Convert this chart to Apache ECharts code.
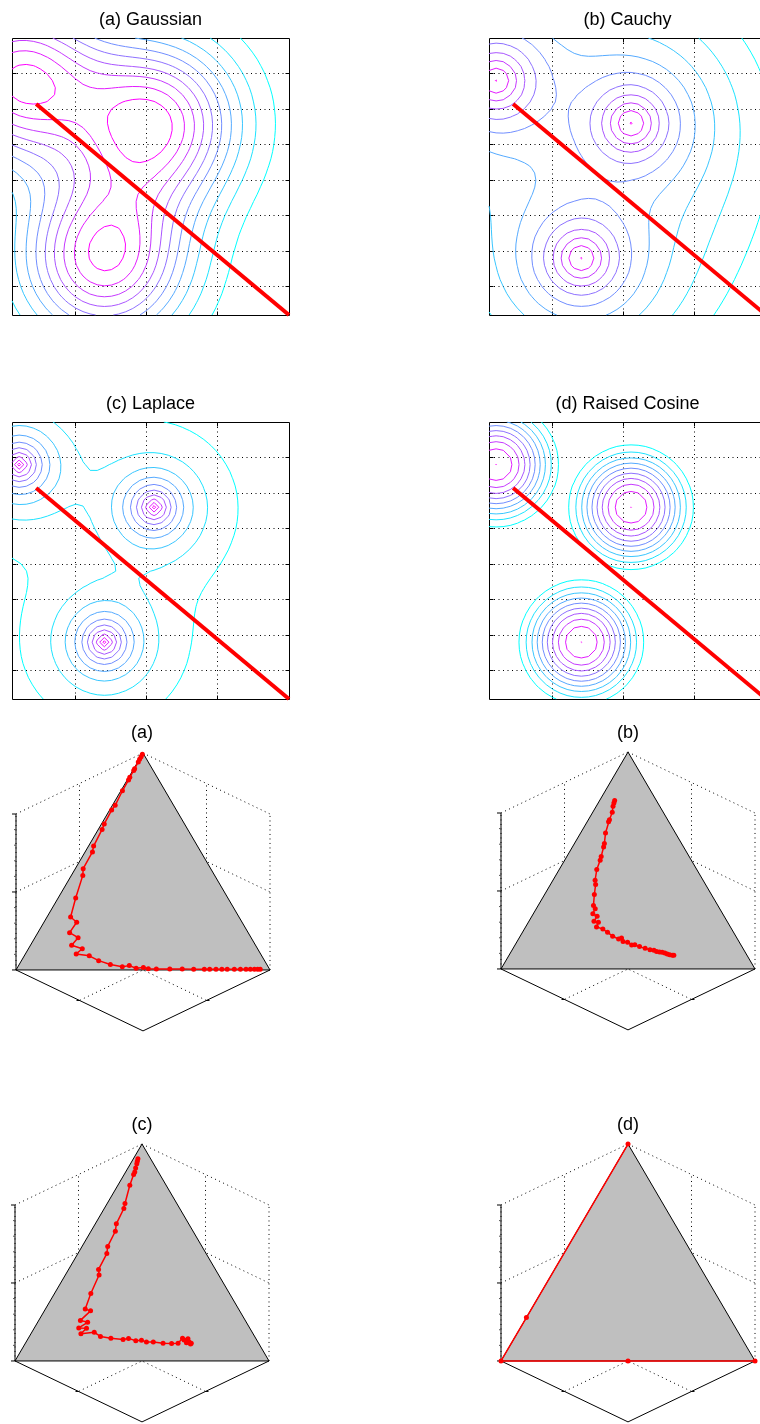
<!DOCTYPE html>
<html>
<head>
<meta charset="utf-8">
<title>Kernel densities and simplex paths</title>
<script src="https://cdn.jsdelivr.net/npm/echarts@6.0.0/dist/echarts.min.js"></script>
<style>
  html, body { margin: 0; padding: 0; background: #fff; }
  #chart { width: 760px; height: 1424px; }
</style>
</head>
<body>
<div id="chart"></div>
<script>
// ---------- density panels: three kernels evaluated on a 0.2-step grid ----------
const gridRange = [-3.8, 4.0];
const gridStep = 0.2;
const xTickValues = [-2, 0, 2];
const yTickValues = [-3, -2, -1, 0, 1, 2, 3];
const kernelCentersX = [-3.6, 0.2, -1.2];
const kernelCentersY = [2.8, 1.6, -2.2];
const kernelWeights = [1, 1, 1];
const densityTitles = ['(a) Gaussian', '(b) Cauchy', '(c) Laplace', '(d) Raised Cosine'];
const densityKernels = ['gaussian', 'cauchy', 'laplace', 'cosine'];
const densityWidths = [1.6, 0.48, 0.79, 2.2];
// contour levels: fraction (k - offset) / divisions of [zmin, zmax], k = 1..count
const levelScales = ['linear', 'log', 'linear', 'linear'];
const levelDivisions = [11, 10, 10, 10];
const levelOffsets = [0, 0, 0.5, 0];
const levelCounts = [10, 9, 10, 9];
// extra level just under the maximum (fraction of the range), or null
const peakLevels = [null, 0.995, null, 0.999];
const boundaryX = [-3.12, 4.0];
const boundaryY = [2.14, -3.8];

// ---------- simplex panels: probability paths [p1, p2, p3] ----------
const simplexTitles = ['(a)', '(b)', '(c)', '(d)'];
const simplexTicks = [0, 0.5, 1];
const simplexMinorTicks = [0.1, 0.2, 0.3, 0.4, 0.6, 0.7, 0.8, 0.9];

const pathA = [
  [0.005, 0.000, 0.995], [0.016, 0.001, 0.983], [0.028, 0.001, 0.971], [0.039, 0.002, 0.959],
  [0.069, 0.003, 0.928], [0.077, 0.004, 0.919], [0.108, 0.004, 0.888], [0.119, 0.005, 0.876],
  [0.168, 0.006, 0.826], [0.230, 0.011, 0.759], [0.255, 0.008, 0.737], [0.316, 0.011, 0.673],
  [0.337, 0.015, 0.648], [0.409, 0.020, 0.571], [0.427, 0.029, 0.544], [0.502, 0.031, 0.467],
  [0.519, 0.045, 0.436], [0.599, 0.069, 0.332], [0.663, 0.093, 0.244], [0.651, 0.129, 0.220],
  [0.703, 0.125, 0.172], [0.681, 0.170, 0.149], [0.724, 0.162, 0.114], [0.690, 0.212, 0.098],
  [0.726, 0.200, 0.074], [0.679, 0.256, 0.065], [0.653, 0.304, 0.043], [0.616, 0.359, 0.025],
  [0.574, 0.411, 0.015], [0.544, 0.436, 0.020], [0.523, 0.469, 0.008], [0.493, 0.496, 0.011],
  [0.476, 0.518, 0.006], [0.445, 0.550, 0.005], [0.392, 0.603, 0.005], [0.343, 0.652, 0.005],
  [0.299, 0.698, 0.003], [0.257, 0.740, 0.003], [0.236, 0.761, 0.003], [0.211, 0.786, 0.003],
  [0.188, 0.809, 0.003], [0.167, 0.830, 0.003], [0.139, 0.858, 0.003], [0.115, 0.882, 0.003],
  [0.093, 0.904, 0.003], [0.076, 0.921, 0.003], [0.060, 0.937, 0.003], [0.047, 0.950, 0.003],
  [0.037, 0.960, 0.003]
];
const pathB = [
  [0.164, 0.059, 0.777], [0.173, 0.062, 0.765], [0.184, 0.066, 0.750], [0.201, 0.077, 0.722],
  [0.229, 0.083, 0.688], [0.237, 0.084, 0.679], [0.275, 0.098, 0.627], [0.304, 0.118, 0.578],
  [0.315, 0.123, 0.562], [0.346, 0.135, 0.519], [0.359, 0.140, 0.501], [0.394, 0.148, 0.458],
  [0.425, 0.166, 0.409], [0.433, 0.178, 0.389], [0.461, 0.196, 0.343], [0.490, 0.218, 0.292],
  [0.490, 0.232, 0.278], [0.511, 0.234, 0.255], [0.500, 0.257, 0.243], [0.524, 0.256, 0.220],
  [0.509, 0.276, 0.215], [0.527, 0.279, 0.194], [0.507, 0.309, 0.184], [0.496, 0.335, 0.169],
  [0.485, 0.364, 0.151], [0.468, 0.394, 0.138], [0.454, 0.403, 0.143], [0.456, 0.417, 0.127],
  [0.440, 0.437, 0.123], [0.430, 0.459, 0.111], [0.417, 0.471, 0.112], [0.403, 0.494, 0.103],
  [0.385, 0.520, 0.095], [0.369, 0.542, 0.089], [0.355, 0.559, 0.086], [0.347, 0.572, 0.081],
  [0.337, 0.585, 0.078], [0.327, 0.596, 0.077], [0.318, 0.608, 0.074], [0.311, 0.620, 0.069],
  [0.303, 0.631, 0.066], [0.294, 0.643, 0.063], [0.288, 0.649, 0.063]
];
const pathC = [
  [0.050, 0.018, 0.932], [0.058, 0.021, 0.921], [0.066, 0.025, 0.909], [0.080, 0.030, 0.890],
  [0.093, 0.036, 0.871], [0.103, 0.037, 0.860], [0.143, 0.047, 0.810], [0.204, 0.070, 0.726],
  [0.220, 0.077, 0.703], [0.285, 0.083, 0.632], [0.306, 0.096, 0.598], [0.371, 0.101, 0.528],
  [0.391, 0.114, 0.495], [0.460, 0.118, 0.422], [0.471, 0.133, 0.396], [0.546, 0.143, 0.311],
  [0.604, 0.157, 0.239], [0.587, 0.182, 0.231], [0.649, 0.164, 0.187], [0.625, 0.197, 0.178],
  [0.673, 0.175, 0.152], [0.643, 0.206, 0.151], [0.678, 0.197, 0.125], [0.622, 0.246, 0.132],
  [0.607, 0.280, 0.113], [0.570, 0.325, 0.105], [0.525, 0.376, 0.099], [0.501, 0.395, 0.104],
  [0.478, 0.429, 0.093], [0.454, 0.450, 0.096], [0.439, 0.474, 0.087], [0.412, 0.501, 0.087],
  [0.376, 0.542, 0.082], [0.343, 0.576, 0.081], [0.317, 0.601, 0.082], [0.288, 0.607, 0.105],
  [0.277, 0.627, 0.096], [0.271, 0.642, 0.087], [0.270, 0.652, 0.078], [0.283, 0.633, 0.084],
  [0.286, 0.617, 0.097], [0.268, 0.630, 0.102], [0.265, 0.653, 0.082]
];
const pathD = [
  [0, 0, 1], [0.8, 0, 0.2], [1, 0, 0], [0.5, 0.5, 0], [0, 1, 0]
];
const simplexPaths = [pathA, pathB, pathC, pathD];

// ---------- layout ----------
const densityBoxes = [[12, 38], [489, 38], [12, 422], [489, 422]];
const densitySize = 277;
const densityTitlePos = [[150.5, 20], [627.5, 20], [150.5, 404], [627.5, 404]];
const simplexOrigins = [[143, 909], [628, 908], [142, 1300], [628, 1300]];
const simplexTitlePos = [[142, 733], [628, 733], [142, 1125], [628, 1125]];
const simplexScale = 127;               // px per projected unit
const simplexView = { cx: 1.0, sy: 0.48, kz: 1.228 };
const projXRange = [-1.1, 1.1];
const projYRange = [-1.0, 1.3];
const TITLE_FONT = '18px "Liberation Sans", Arial, Helvetica, sans-serif';

// ---------- density field + contour tracing ----------
function kernelValue(kind, r, w) {
  switch (kind) {
    case 'gaussian': return Math.exp(-r * r / (2 * w * w));
    case 'cauchy': return 1 / (1 + r * r / (w * w));
    case 'laplace': return Math.exp(-r / w);
    default: return r < w ? 0.5 * (1 + Math.cos(Math.PI * r / w)) : 0;
  }
}
const nodes = [];
const nNodes = Math.round((gridRange[1] - gridRange[0]) / gridStep) + 1;
for (let i = 0; i < nNodes; i++) nodes.push(Math.round((gridRange[0] + i * gridStep) * 1e6) / 1e6);

function densityField(kind, w) {
  const z = [];
  for (let j = 0; j < nodes.length; j++) {
    const row = [];
    for (let i = 0; i < nodes.length; i++) {
      let s = 0;
      for (let k = 0; k < kernelCentersX.length; k++) {
        const dx = nodes[i] - kernelCentersX[k], dy = nodes[j] - kernelCentersY[k];
        s += kernelWeights[k] * kernelValue(kind, Math.sqrt(dx * dx + dy * dy), w);
      }
      row.push(s);
    }
    z.push(row);
  }
  return z;
}

// marching squares, returns chained polylines for one level
function contourLevel(z, level) {
  const n = nodes.length;
  const segs = [];
  const cross = (i0, j0, i1, j1) => {
    const a = z[j0][i0], b = z[j1][i1];
    const t = (level - a) / (b - a);
    return [nodes[i0] + (nodes[i1] - nodes[i0]) * t, nodes[j0] + (nodes[j1] - nodes[j0]) * t];
  };
  for (let j = 0; j < n - 1; j++) {
    for (let i = 0; i < n - 1; i++) {
      const v0 = z[j][i], v1 = z[j][i + 1], v2 = z[j + 1][i + 1], v3 = z[j + 1][i];
      const b0 = v0 >= level, b1 = v1 >= level, b2 = v2 >= level, b3 = v3 >= level;
      const edges = {};
      if (b0 !== b1) edges.e0 = { k: 'h' + i + '_' + j, p: cross(i, j, i + 1, j) };
      if (b1 !== b2) edges.e1 = { k: 'v' + (i + 1) + '_' + j, p: cross(i + 1, j, i + 1, j + 1) };
      if (b2 !== b3) edges.e2 = { k: 'h' + i + '_' + (j + 1), p: cross(i, j + 1, i + 1, j + 1) };
      if (b3 !== b0) edges.e3 = { k: 'v' + i + '_' + j, p: cross(i, j, i, j + 1) };
      const list = Object.keys(edges);
      const add = (a, b) => segs.push({ k: [edges[a].k, edges[b].k], p: [edges[a].p, edges[b].p] });
      if (list.length === 2) add(list[0], list[1]);
      else if (list.length === 4) {
        const centerIn = (v0 + v1 + v2 + v3) / 4 >= level;
        if (b0) {
          if (centerIn) { add('e0', 'e1'); add('e2', 'e3'); } else { add('e3', 'e0'); add('e1', 'e2'); }
        } else {
          if (centerIn) { add('e3', 'e0'); add('e1', 'e2'); } else { add('e0', 'e1'); add('e2', 'e3'); }
        }
      }
    }
  }
  const byKey = new Map();
  segs.forEach((s, idx) => s.k.forEach(k => { if (!byKey.has(k)) byKey.set(k, []); byKey.get(k).push(idx); }));
  const used = new Array(segs.length).fill(false);
  const walk = (start, from) => {
    const pts = [segs[start].p[from]];
    let idx = start;
    while (true) {
      used[idx] = true;
      const to = 1 - from;
      pts.push(segs[idx].p[to]);
      const key = segs[idx].k[to];
      const next = byKey.get(key).filter(q => !used[q]);
      if (!next.length) break;
      idx = next[0];
      from = segs[idx].k[0] === key ? 0 : 1;
    }
    return pts;
  };
  const lines = [];
  byKey.forEach((list, key) => {
    if (list.length === 1 && !used[list[0]]) lines.push(walk(list[0], segs[list[0]].k[0] === key ? 0 : 1));
  });
  segs.forEach((s, idx) => { if (!used[idx]) lines.push(walk(idx, 0)); });
  return lines;
}

const coolColor = t => 'rgb(' + Math.round(255 * t) + ',' + Math.round(255 * (1 - t)) + ',255)';
const crisp = v => Math.round(v - 0.5) + 0.5;

// ---------- simplex projection ----------
function project(p) {
  return [(p[1] - p[0]) * simplexView.cx, p[2] * simplexView.kz - (p[0] + p[1]) * simplexView.sy];
}

// ---------- build option ----------
const grids = [], xAxes = [], yAxes = [], series = [], graphics = [];

densityKernels.forEach((kind, p) => {
  const [left, top] = densityBoxes[p];
  grids.push({ left, top, width: densitySize, height: densitySize, show: false, containLabel: false, outerBoundsMode: 'none' });
  xAxes.push({ type: 'value', gridIndex: p, min: gridRange[0], max: gridRange[1], show: false });
  yAxes.push({ type: 'value', gridIndex: p, min: gridRange[0], max: gridRange[1], show: false });

  // dotted grid, frame and inward ticks
  series.push({
    type: 'custom', xAxisIndex: p, yAxisIndex: p, z: 1, silent: true, animation: false,
    data: [[0, 0]],
    renderItem: (params, api) => {
      const ch = [];
      const dot = { stroke: '#000', lineWidth: 1, lineDash: [1, 3.5], fill: null };
      const solid = { stroke: '#000', lineWidth: 1, fill: null };
      const lo = gridRange[0], hi = gridRange[1];
      const tl = api.coord([lo, hi]), br = api.coord([hi, lo]);
      const L = crisp(tl[0]), T = crisp(tl[1]), R = crisp(br[0]), B = crisp(br[1]);
      const TICK = 4;
      xTickValues.forEach(v => {
        const x = crisp(api.coord([v, 0])[0]);
        ch.push({ type: 'line', shape: { x1: x, y1: T, x2: x, y2: B }, style: dot });
        ch.push({ type: 'line', shape: { x1: x, y1: B, x2: x, y2: B - TICK }, style: solid });
        ch.push({ type: 'line', shape: { x1: x, y1: T, x2: x, y2: T + TICK }, style: solid });
      });
      yTickValues.forEach(v => {
        const y = crisp(api.coord([0, v])[1]);
        ch.push({ type: 'line', shape: { x1: L, y1: y, x2: R, y2: y }, style: dot });
        ch.push({ type: 'line', shape: { x1: L, y1: y, x2: L + TICK, y2: y }, style: solid });
        ch.push({ type: 'line', shape: { x1: R, y1: y, x2: R - TICK, y2: y }, style: solid });
      });
      ch.push({ type: 'rect', shape: { x: L, y: T, width: R - L, height: B - T }, style: solid, z2: 10 });
      return { type: 'group', children: ch };
    }
  });

  // contour lines
  const z = densityField(kind, densityWidths[p]);
  let zmin = Infinity, zmax = -Infinity;
  z.forEach(r => r.forEach(v => { zmin = Math.min(zmin, v); zmax = Math.max(zmax, v); }));
  const toLevel = f => levelScales[p] === 'log'
    ? Math.exp(Math.log(zmin) + (Math.log(zmax) - Math.log(zmin)) * f)
    : zmin + (zmax - zmin) * f;
  const levels = [];
  for (let k = 1; k <= levelCounts[p]; k++) levels.push(toLevel((k - levelOffsets[p]) / levelDivisions[p]));
  if (peakLevels[p] !== null) levels.push(toLevel(peakLevels[p]));
  const contourData = [];
  levels.forEach((lv, i) => {
    const color = coolColor(levels.length > 1 ? i / (levels.length - 1) : 1);
    contourLevel(z, lv).forEach(line => {
      if (line.length > 1) contourData.push({ coords: line, lineStyle: { color } });
    });
  });
  series.push({
    type: 'lines', coordinateSystem: 'cartesian2d', xAxisIndex: p, yAxisIndex: p,
    polyline: true, silent: true, animation: false, z: 2,
    lineStyle: { width: 1, opacity: 1 },
    data: contourData
  });

  // separating line
  series.push({
    type: 'line', xAxisIndex: p, yAxisIndex: p, z: 3, silent: true, animation: false,
    symbol: 'none', lineStyle: { color: '#ff0000', width: 4 },
    data: boundaryX.map((x, i) => [x, boundaryY[i]])
  });

  graphics.push({
    type: 'text', x: densityTitlePos[p][0], y: densityTitlePos[p][1], silent: true,
    style: { text: densityTitles[p], fill: '#000', font: TITLE_FONT, textAlign: 'center', textVerticalAlign: 'middle' }
  });
});

simplexPaths.forEach((path, q) => {
  const g = 4 + q;
  const [ox, oy] = simplexOrigins[q];
  grids.push({
    left: ox + projXRange[0] * simplexScale, top: oy - projYRange[1] * simplexScale,
    width: (projXRange[1] - projXRange[0]) * simplexScale,
    height: (projYRange[1] - projYRange[0]) * simplexScale,
    show: false, containLabel: false, outerBoundsMode: 'none'
  });
  xAxes.push({ type: 'value', gridIndex: g, min: projXRange[0], max: projXRange[1], show: false });
  yAxes.push({ type: 'value', gridIndex: g, min: projYRange[0], max: projYRange[1], show: false });

  series.push({
    type: 'custom', xAxisIndex: g, yAxisIndex: g, z: 1, silent: true, animation: false,
    data: [[0, 0]],
    renderItem: (params, api) => {
      const ch = [];
      const P = v => api.coord(project(v));
      const seg = (a, b, style) => {
        const A = P(a), B = P(b);
        ch.push({ type: 'line', shape: { x1: A[0], y1: A[1], x2: B[0], y2: B[1] }, style });
      };
      const dot = { stroke: '#000', lineWidth: 1, lineDash: [1, 3.5], fill: null };
      const solid = { stroke: '#000', lineWidth: 1, fill: null };
      // back walls and floor grid
      simplexTicks.forEach(t => {
        seg([t, 0, 0], [t, 0, 1], dot);
        seg([1, 0, t], [0, 0, t], dot);
        seg([0, t, 0], [0, t, 1], dot);
        seg([0, 0, t], [0, 1, t], dot);
        if (t < 1) {
          seg([t, 0, 0], [t, 1, 0], dot);
          seg([0, t, 0], [1, t, 0], dot);
        }
      });
      // simplex face
      const tri = [[1, 0, 0], [0, 1, 0], [0, 0, 1]].map(P);
      ch.push({ type: 'polygon', shape: { points: tri }, style: { fill: '#bfbfbf', stroke: '#000', lineWidth: 1 } });
      // axis lines
      seg([1, 0, 0], [1, 0, 1], solid);
      seg([1, 0, 0], [1, 1, 0], solid);
      seg([1, 1, 0], [0, 1, 0], solid);
      // ticks
      simplexTicks.forEach(t => {
        const a = P([1, 0, t]);
        ch.push({ type: 'line', shape: { x1: a[0], y1: a[1], x2: a[0] - 4, y2: a[1] }, style: solid });
      });
      simplexMinorTicks.forEach(t => {
        const a = P([1, 0, t]);
        ch.push({ type: 'line', shape: { x1: a[0], y1: a[1], x2: a[0] - 2, y2: a[1] }, style: { stroke: '#555', lineWidth: 1 } });
      });
      const ty = P([1, 0.5, 0]), tx = P([0.5, 1, 0]);
      ch.push({ type: 'line', shape: { x1: ty[0], y1: ty[1], x2: ty[0] - 3, y2: ty[1] }, style: solid });
      ch.push({ type: 'line', shape: { x1: tx[0], y1: tx[1], x2: tx[0] + 3, y2: tx[1] }, style: solid });
      return { type: 'group', children: ch };
    }
  });

  series.push({
    type: 'line', xAxisIndex: g, yAxisIndex: g, z: 5, silent: true, animation: false, clip: false,
    symbol: 'circle', symbolSize: 5, showSymbol: true,
    lineStyle: { color: '#ff0000', width: 1.5 }, itemStyle: { color: '#ff0000' },
    data: path.map(project)
  });

  graphics.push({
    type: 'text', x: simplexTitlePos[q][0], y: simplexTitlePos[q][1], silent: true,
    style: { text: simplexTitles[q], fill: '#000', font: TITLE_FONT, textAlign: 'center', textVerticalAlign: 'middle' }
  });
});

const chart = echarts.init(document.getElementById('chart'), null, { renderer: 'canvas' });
chart.setOption({
  animation: false,
  backgroundColor: '#ffffff',
  grid: grids,
  xAxis: xAxes,
  yAxis: yAxes,
  series: series,
  graphic: graphics
});
</script>
</body>
</html>
